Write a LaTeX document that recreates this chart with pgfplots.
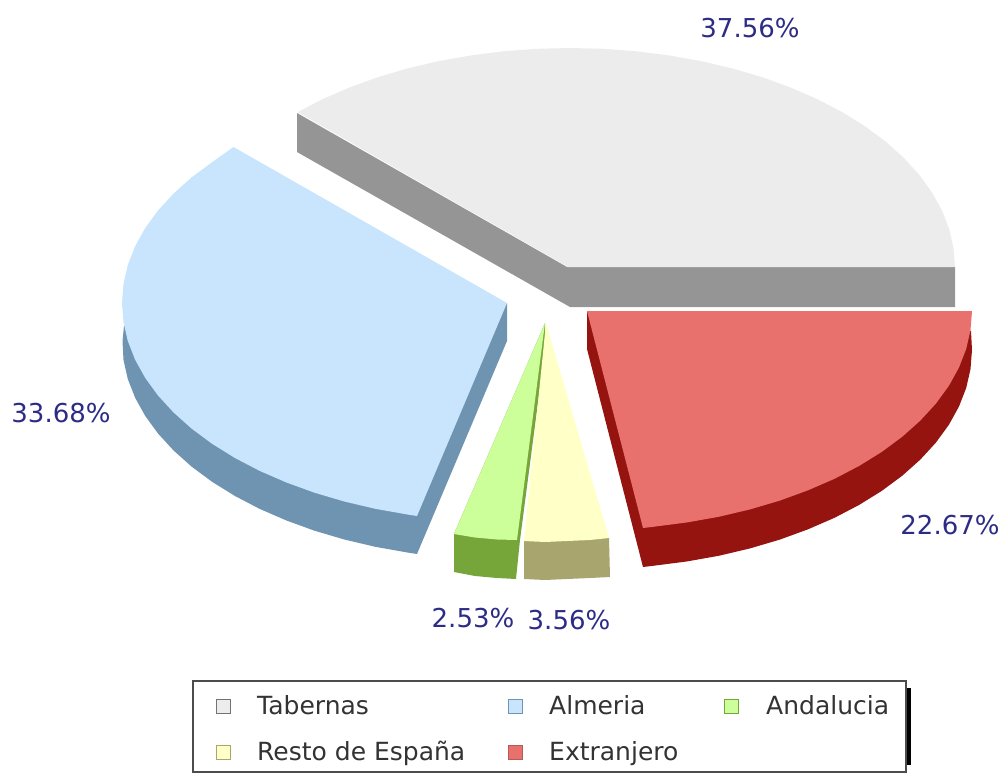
\documentclass[border=0pt]{standalone}
\usepackage{fontspec}
\setmainfont{DejaVu Sans}
\usepackage{pgfplots}
\pgfplotsset{compat=1.18}
\definecolor{graytop}{HTML}{ECECEC}
\definecolor{grayside}{HTML}{959595}
\definecolor{bluetop}{HTML}{C8E5FD}
\definecolor{blueside}{HTML}{6F94B2}
\definecolor{greentop}{HTML}{CCFF99}
\definecolor{greenside}{HTML}{76A63A}
\definecolor{yellowtop}{HTML}{FFFFC8}
\definecolor{yellowside}{HTML}{A8A56E}
\definecolor{redtop}{HTML}{E8716E}
\definecolor{redside}{HTML}{951410}
\definecolor{labelc}{HTML}{2C2C86}
\tikzset{lab/.style={font=\fontsize{25}{30}\selectfont},
  pct/.style={font=\fontsize{26}{30}\selectfont, text=labelc}}
\begin{document}
\begin{tikzpicture}
\useasboundingbox (0,0) rectangle (1002pt,774pt);
\begin{axis}[
  at={(0,0)}, anchor=south west,
  scale only axis, width=1002pt, height=774pt,
  xmin=0, xmax=1002, ymin=0, ymax=774, y dir=reverse,
  hide axis, clip=false,
]
% Tabernas 37.56
\addplot[fill=grayside, draw=none] coordinates {(297,113) (297,152) (570,307) (955,307) (955,267) (567,267)} --cycle;
\addplot[fill=graytop, draw=none] coordinates {(568,267) (297.8,112.1) (322.5,99.2) (349.2,87.6) (377.5,77.3) (407.3,68.5) (438.3,61.2) (470.4,55.5) (503.1,51.3) (536.4,48.8) (570,48) (603.6,48.8) (636.9,51.3) (669.6,55.5) (701.7,61.2) (732.7,68.5) (762.5,77.3) (790.8,87.6) (817.5,99.2) (842.2,112.1) (864.9,126.2) (885.4,141.4) (903.4,157.5) (918.9,174.4) (931.8,192.1) (941.9,210.3) (949.2,229) (953.5,247.9) (955,267)} --cycle;
% Almeria 33.68
\addplot[fill=blueside, draw=none] coordinates {(124,326) (122.5,341) (123.5,360.1) (127.8,379) (135.1,397.7) (145.2,415.9) (158.1,433.6) (173.6,450.5) (191.6,466.6) (212.1,481.8) (234.8,495.9) (259.5,508.8) (286.2,520.4) (314.5,530.7) (344.3,539.5) (375.3,546.8) (407.4,552.5) (417,554) (507,341) (507,303)} --cycle;
\addplot[fill=bluetop, draw=none] coordinates {(507,303) (233.5,147) (212.1,162.2) (191.6,177.4) (173.6,193.5) (158.1,210.4) (145.2,228.1) (135.1,246.3) (127.8,265) (123.5,283.9) (122,303) (123.5,322.1) (127.8,341) (135.1,359.7) (145.2,377.9) (158.1,395.6) (173.6,412.5) (191.6,428.6) (212.1,443.8) (234.8,457.9) (259.5,470.8) (286.2,482.4) (314.5,492.7) (344.3,501.5) (375.3,508.8) (407.4,514.5) (417,516)} --cycle;
% Andalucia 2.53
\addplot[fill=greenside, draw=none] coordinates {(454,534) (454,572) (475,576) (497,578) (516,579) (520,540) (545.5,345) (545,323)} --cycle;
\addplot[fill=greentop, draw=none] coordinates {(545,323) (454,534) (475,537.5) (497,539.5) (517,540)} --cycle;
% Resto de Espana 3.56
\addplot[fill=yellowside, draw=none] coordinates {(524,541) (524,579) (545,580) (567,579) (590,578) (610,577) (609,538)} --cycle;
\addplot[fill=yellowtop, draw=none] coordinates {(546,323) (524,541) (545,542) (567,541) (590,540) (609,538)} --cycle;
% Extranjero 22.67
\addplot[fill=redside, draw=none] coordinates {(587,311) (587,349) (643,567) (653.9,565.7) (686.6,561.5) (718.7,555.8) (749.7,548.5) (779.5,539.7) (807.8,529.4) (834.5,517.8) (859.2,504.9) (881.9,490.8) (902.4,475.6) (920.4,459.5) (935.9,442.6) (948.8,424.9) (958.9,406.7) (966.2,388) (970.5,369.1) (972,350) (971,331)} --cycle;
\addplot[fill=redtop, draw=none] coordinates {(587,311) (643,528) (653.9,526.7) (686.6,522.5) (718.7,516.8) (749.7,509.5) (779.5,500.7) (807.8,490.4) (834.5,478.8) (859.2,465.9) (881.9,451.8) (902.4,436.6) (920.4,420.5) (935.9,403.6) (948.8,385.9) (958.9,367.7) (966.2,349) (970.5,330.1) (972,311)} --cycle;
% percent labels
\node[pct] at (axis cs:750,28) {37.56\%};
\node[pct] at (axis cs:61,413) {33.68\%};
\node[pct] at (axis cs:950,525) {22.67\%};
\node[pct] at (axis cs:473,618) {2.53\%};
\node[pct] at (axis cs:569,620) {3.56\%};
% legend frame and shadow
\addplot[black, line width=5pt] coordinates {(908.5,688) (908.5,765)};
\addplot[fill=white, draw=black!70, line width=1.2pt] coordinates {(193,681) (906,681) (906,772) (193,772)} --cycle;
% legend keys
\addplot[only marks, mark=square*, mark size=7pt, mark options={fill=graytop, draw=black!55, line width=1pt}] coordinates {(223,706)};
\addplot[only marks, mark=square*, mark size=7pt, mark options={fill=bluetop, draw=blueside, line width=1pt}] coordinates {(515,706)};
\addplot[only marks, mark=square*, mark size=7pt, mark options={fill=greentop, draw=greenside, line width=1pt}] coordinates {(731,706)};
\addplot[only marks, mark=square*, mark size=7pt, mark options={fill=yellowtop, draw=yellowside, line width=1pt}] coordinates {(223,752)};
\addplot[only marks, mark=square*, mark size=7pt, mark options={fill=redtop, draw=redside!70, line width=1pt}] coordinates {(515,752)};
\node[lab, text=black!80, anchor=base west, inner sep=0pt] at (axis cs:257,714) {Tabernas};
\node[lab, text=black!80, anchor=base west, inner sep=0pt] at (axis cs:549,714) {Almeria};
\node[lab, text=black!80, anchor=base west, inner sep=0pt] at (axis cs:766,714) {Andalucia};
\node[lab, text=black!80, anchor=base west, inner sep=0pt] at (axis cs:257,760) {Resto de España};
\node[lab, text=black!80, anchor=base west, inner sep=0pt] at (axis cs:549,760) {Extranjero};
\end{axis}
\end{tikzpicture}
\end{document}
